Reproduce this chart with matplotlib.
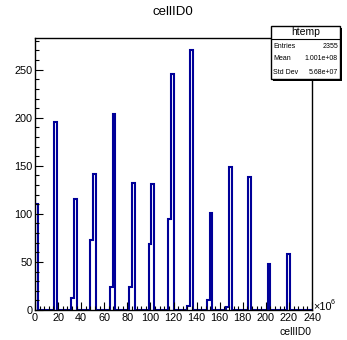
import numpy as np
import matplotlib
matplotlib.use("Agg")
import matplotlib.pyplot as plt
from matplotlib.ticker import MultipleLocator, FuncFormatter
from matplotlib.patches import Rectangle

plt.rcParams['font.family'] = ['Liberation Sans', 'DejaVu Sans']

# Histogram: 100 bins from 0 to 240e6
x_min = 0.0
x_max = 240e6
n_bins = 100
# non-empty bins (index) and counts
bin_index = [0, 7, 13, 14, 20, 21, 27, 28, 34, 35, 41, 42, 48, 49, 55, 56,
             62, 63, 69, 70, 77, 84, 91]
bin_count = [110, 196, 12, 115, 73, 142, 24, 204, 24, 132, 69, 131, 95, 246, 4, 270,
             10, 101, 3, 149, 138, 48, 58]

title = "cellID0"
xlabel = "cellID0"
stats_name = "htemp"
stats_rows = [("Entries", "2355"), ("Mean", "1.001e+08"), ("Std Dev", "5.68e+07")]

W, H = 347, 340
fig = plt.figure(figsize=(W / 100, H / 100), dpi=100)
fig.patch.set_facecolor('white')

L, R, T, B = 35, 312, 37.5, 310
ax = fig.add_axes([L / W, (H - B) / H, (R - L) / W, (B - T) / H])

counts = np.zeros(n_bins)
for i, c in zip(bin_index, bin_count):
    counts[i] = c
edges = np.linspace(x_min, x_max, n_bins + 1)
ax.stairs(counts, edges, color='#000099', linewidth=1.5, fill=False, baseline=0)

ymax = 1.05 * max(bin_count)
ax.set_xlim(x_min, x_max)
ax.set_ylim(0, ymax)

ax.xaxis.set_major_locator(MultipleLocator(20e6))
ax.xaxis.set_minor_locator(MultipleLocator(4e6))
ax.yaxis.set_major_locator(MultipleLocator(50))
ax.yaxis.set_minor_locator(MultipleLocator(10))
ax.xaxis.set_major_formatter(FuncFormatter(lambda v, p: f"{v/1e6:.0f}"))
ax.tick_params(axis='both', which='major', direction='in', length=6, width=0.8,
               labelsize=7.8, pad=2)
ax.tick_params(axis='both', which='minor', direction='in', length=3, width=0.8)
ax.tick_params(top=False, right=False, which='both')
for s in ax.spines.values():
    s.set_linewidth(1.0)

fig.text(173 / W, 1 - 12 / H, title, ha='center', va='center', fontsize=9.5)
fig.text(R / W, 1 - 332 / H, xlabel, ha='right', va='center', fontsize=7.5)
fig.text(313 / W, 1 - 310 / H, "\u00d710", ha='left', va='baseline', fontsize=7.8)
fig.text(331 / W, 1 - 304 / H, "6", ha='left', va='baseline', fontsize=5)

# stats box
bx0, bx1, by0, by1 = 271, 340, 26, 79
shadow = Rectangle((bx0 + 1.5, H - by1 - 1.5), bx1 - bx0, by1 - by0, transform=None,
                   facecolor='black', edgecolor='none', zorder=9)
box = Rectangle((bx0, H - by1), bx1 - bx0, by1 - by0, transform=None,
                facecolor='white', edgecolor='black', linewidth=1.0, zorder=10)
fig.add_artist(shadow)
fig.add_artist(box)
fig.add_artist(plt.Line2D([bx0 / W, bx1 / W], [1 - 38.5 / H, 1 - 38.5 / H],
                          transform=fig.transFigure, color='black', lw=0.8, zorder=11))
fig.text((bx0 + bx1) / 2 / W, 1 - 32 / H, stats_name, ha='center', va='center',
         fontsize=7.5, zorder=12)
row_y = [46, 59, 72]
for (k, v), yy in zip(stats_rows, row_y):
    fig.text((bx0 + 2) / W, 1 - yy / H, k, ha='left', va='center', fontsize=5, zorder=12)
    fig.text((bx1 - 2) / W, 1 - yy / H, v, ha='right', va='center', fontsize=5, zorder=12)

fig.savefig("out.png", dpi=100)
